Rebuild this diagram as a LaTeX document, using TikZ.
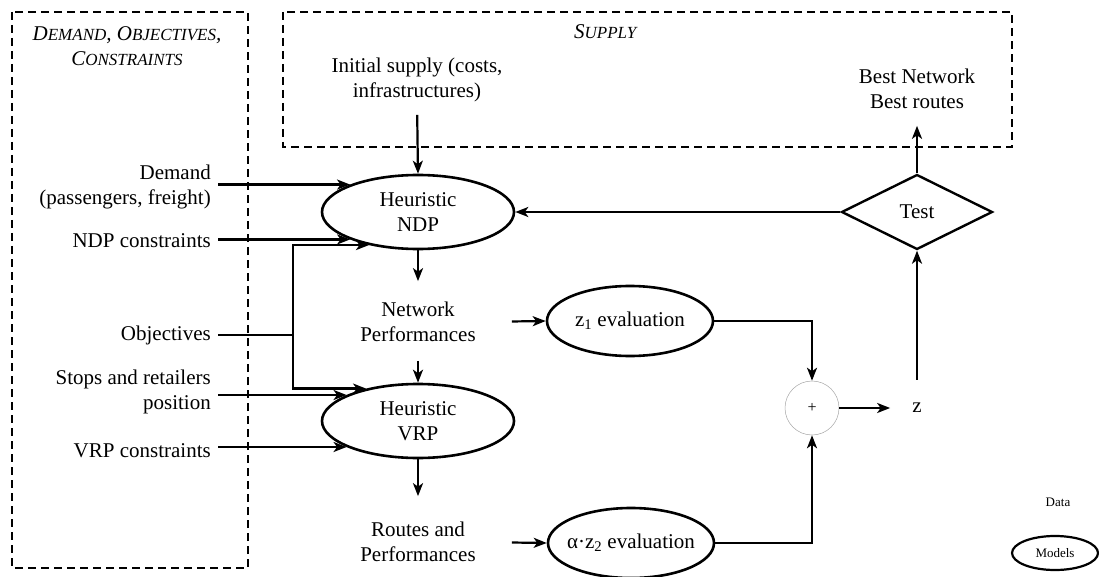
\documentclass[tikz,border=0pt]{standalone}
\usepackage{fontspec}
\setmainfont{Liberation Serif}
\usetikzlibrary{shapes.geometric,arrows.meta,positioning,calc}

\newcommand{\smc}[1]{{\fontsize{17}{25}\selectfont #1}}

\begin{document}
\begin{tikzpicture}[x=1pt,y=-1pt,
   font=\fontsize{21}{24.5}\selectfont,
   model/.style={ellipse,draw,line width=2.6pt,minimum width=192,minimum height=74,align=center,inner sep=0pt},
   evalbox/.style={ellipse,draw,line width=2.6pt,minimum width=166,minimum height=70,inner ysep=0pt,inner xsep=-24pt},
   txt/.style={align=center,inner sep=0pt},
   inlabel/.style={align=right,anchor=east,inner xsep=7pt,inner ysep=0pt},
   flow/.style={-{Stealth[length=13pt,width=10pt,inset=3.5pt]},line width=2.2pt},
   wire/.style={line width=2.2pt},
   framebox/.style={draw,line width=2pt,dash pattern=on 8pt off 5pt}]

\useasboundingbox (0,0) rectangle (1099,577);

% dashed areas
\draw[framebox] ( 12,12) rectangle ( 248,568);
\draw[framebox] (283,12) rectangle (1012,147);

\node[txt] (dochead) at (127,46) {\textit{D\smc{EMAND}, O\smc{BJECTIVES},}\\\textit{C\smc{ONSTRAINTS}}};
\node[txt,anchor=base] (suphead) at (606,39) {\textit{S\smc{UPPLY}}};

% inputs
\node[inlabel] (dem)  at (218,187) {Demand\\(passengers, freight)};
\node[inlabel] (ndpc) at (218,241) {NDP constraints};
\node[inlabel] (obj)  at (218,335) {Objectives};
\node[inlabel] (stop) at (218,392) {Stops and retailers\\position};
\node[inlabel] (vrpc) at (218,451) {VRP constraints};

\node[txt] (init) at (417,80) {Initial supply (costs,\\infrastructures)};
\node[txt] (best) at (917,89) {Best Network\\Best routes};

% models
\node[model] (ndp) at (418,212) {Heuristic\\NDP};
\node[model] (vrp) at (418,421) {Heuristic\\VRP};
\node[txt] (netperf) at (418,322) {Network\\Performances};
\node[txt] (routes)  at (418,542) {Routes and\\Performances};

\node[evalbox] (zonev) at (630,321) {z\textsubscript{1} evaluation};
\node[evalbox] (ztwov) at (631,543) {α·z\textsubscript{2} evaluation};

\node[circle,draw=gray!70,line width=0.5pt,minimum size=54,inner sep=0pt,font=\fontsize{16}{18}\selectfont] (plus) at (812,408) {+};
\node[txt] (z) at (917,408) {z};
\node[diamond,draw,line width=2.4pt,aspect=2,minimum width=151,minimum height=75,inner sep=0pt] (test) at (917,212) {Test};

% legend
\node[txt,font=\fontsize{13}{15}\selectfont] (datakey) at (1058,502) {Data};
\node[ellipse,draw,line width=2.2pt,minimum width=86,minimum height=34,inner sep=0pt,font=\fontsize{13}{15}\selectfont] (modelkey) at (1055,553) {Models};

% connectors
\draw[flow] (ndp.158 -| dem.east) -- (ndp.158);
\draw[flow] (ndp.202 -| ndpc.east) -- (ndp.202);
\coordinate (fork) at ($(obj.east)+(75,0)$);
\draw[wire] (obj.east) -- (fork);
\draw[flow] (fork) |- (ndp.214);
\draw[flow] (fork) |- (vrp.148);
\draw[flow] (vrp.160 -| stop.east) -- (vrp.160);
\draw[flow] (vrp.200 -| vrpc.east) -- (vrp.200);

\draw[flow,shorten <=13pt] (init.south) -- (ndp.north);
\draw[flow,shorten >=21pt] (ndp.south) -- (netperf.north);
\draw[flow,shorten <=19pt] (netperf.south) -- (vrp.north);
\draw[flow,shorten >=26pt] (vrp.south) -- (routes.north);

\draw[flow,shorten <=36pt] (netperf.east) -- (zonev.west);
\draw[flow,shorten <=36pt] (routes.east) -- (ztwov.west);
\draw[flow] (zonev.east) -| (plus.north);
\draw[flow] (ztwov.east) -| (plus.south);
\draw[flow,shorten >=22pt] (plus.east) -- (z.west);
\draw[flow,shorten <=23pt] (z.north) -- (test.south);
\draw[flow,shorten >=17pt] (test.north) -- (best.south);
\draw[flow] (test.west) -- (ndp.east);

\end{tikzpicture}
\end{document}
